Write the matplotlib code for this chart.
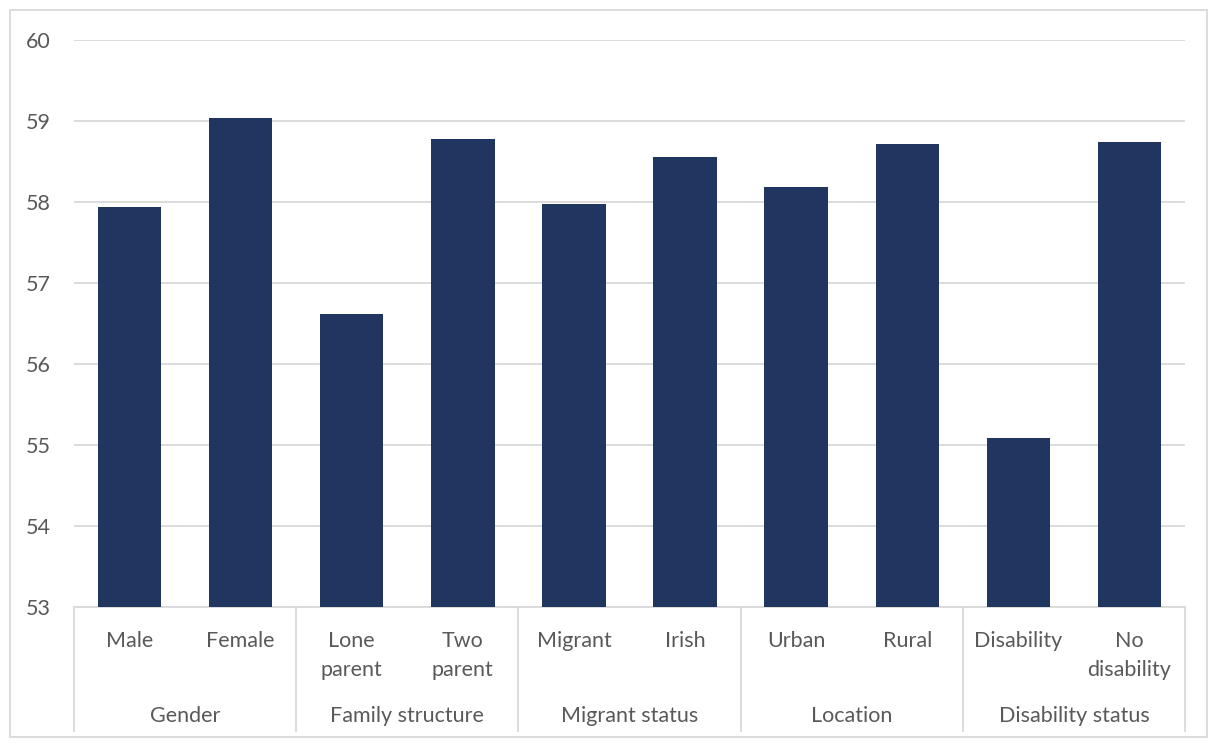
import matplotlib
matplotlib.use("Agg")
import matplotlib.pyplot as plt
import matplotlib.patches as patches
from matplotlib.lines import Line2D
import numpy as np

# Data
sub_labels = ["Male", "Female", "Lone\nparent", "Two\nparent", "Migrant", "Irish",
              "Urban", "Rural", "Disability", "No\ndisability"]
values = [57.94, 59.03, 56.62, 58.77, 57.97, 58.55, 58.18, 58.71, 55.08, 58.74]
groups = ["Gender", "Family structure", "Migrant status", "Location", "Disability status"]
group_sizes = [2, 2, 2, 2, 2]
y_ticks = [53, 54, 55, 56, 57, 58, 59, 60]

bar_color = "#203560"
grid_color = "#d9d9d9"
text_color = "#595959"

plt.rcParams['font.family'] = ['Lato', 'DejaVu Sans']

W, H = 1213, 747
fig = plt.figure(figsize=(W / 100, H / 100), dpi=100)
ax = fig.add_axes([74 / W, 1 - 607 / H, (1185 - 74) / W, (607 - 39.5) / H])

x = np.arange(len(values))
ax.bar(x, values, width=0.57, color=bar_color, zorder=3)

ax.set_xlim(-0.5, len(values) - 0.5)
ax.set_ylim(y_ticks[0], y_ticks[-1])
ax.set_yticks(y_ticks)
ax.yaxis.grid(True, color=grid_color, linewidth=1.3, zorder=0)
ax.set_xticks([])
ax.tick_params(axis='y', length=0, pad=16.5, labelsize=15.5, labelcolor=text_color)

for side in ["left", "right", "top"]:
    ax.spines[side].set_visible(False)
ax.spines["bottom"].set_color(grid_color)
ax.spines["bottom"].set_linewidth(1.3)

trans = ax.get_xaxis_transform()
for i, lab in enumerate(sub_labels):
    ax.text(i, -0.042, lab, transform=trans, ha="center", va="top",
            fontsize=15.5, color=text_color, linespacing=1.55, clip_on=False)

start = 0
bounds = [-0.5]
for g, n in zip(groups, group_sizes):
    center = start + (n - 1) / 2
    ax.text(center, -0.192, g, transform=trans, ha="center", va="center",
            fontsize=15.5, color=text_color, clip_on=False)
    start += n
    bounds.append(start - 0.5)

for b in bounds:
    ax.add_line(Line2D([b, b], [0, -0.218], transform=trans, color=grid_color,
                       linewidth=1.3, clip_on=False))

fig.patches.append(patches.Rectangle((10 / W, 10 / H), (1207 - 10) / W, (737 - 10) / H,
                                     transform=fig.transFigure, fill=False,
                                     edgecolor=grid_color, linewidth=1.3))

fig.savefig("out.png", dpi=100, facecolor="white")
